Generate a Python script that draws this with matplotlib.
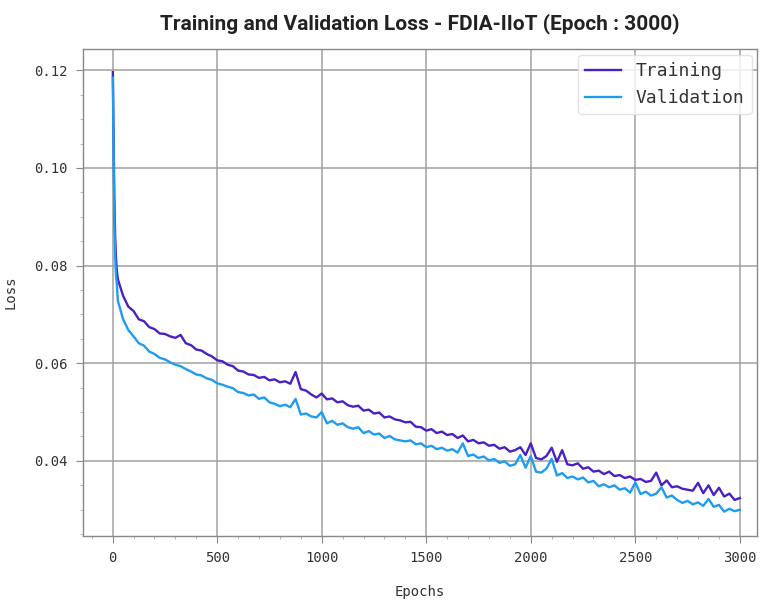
import numpy as np
import matplotlib
matplotlib.use("Agg")
import matplotlib.pyplot as plt
import matplotlib.ticker as ticker

# Daten
epochs_early = [1, 4, 8, 12, 16, 20]
train_early = [0.1196, 0.1080, 0.0940, 0.0860, 0.0815, 0.0790]
val_early = [0.1185, 0.1050, 0.0900, 0.0820, 0.0780, 0.0762]

epochs_main = list(range(25, 3001, 25))

train_main = [
    0.0772, 0.0738, 0.0716, 0.0707, 0.0690, 0.0686, 0.0674, 0.0670, 0.0661, 0.0660,
    0.0655, 0.0652, 0.0658, 0.0641, 0.0637, 0.0628, 0.0626, 0.0619, 0.0614, 0.0606,
    0.0604, 0.0597, 0.0594, 0.0585, 0.0583, 0.0577, 0.0576, 0.0570, 0.0572, 0.0565,
    0.0567, 0.0561, 0.0563, 0.0558, 0.0582, 0.0547, 0.0544, 0.0536, 0.0530, 0.0538,
    0.0526, 0.0528, 0.0520, 0.0522, 0.0514, 0.0511, 0.0513, 0.0503, 0.0505, 0.0497,
    0.0499, 0.0489, 0.0491, 0.0485, 0.0483, 0.0479, 0.0480, 0.0470, 0.0469, 0.0462,
    0.0465, 0.0457, 0.0460, 0.0453, 0.0455, 0.0447, 0.0452, 0.0440, 0.0443, 0.0436,
    0.0438, 0.0431, 0.0433, 0.0425, 0.0428, 0.0419, 0.0422, 0.0428, 0.0412, 0.0436,
    0.0406, 0.0403, 0.0410, 0.0427, 0.0398, 0.0422, 0.0393, 0.0391, 0.0395, 0.0384,
    0.0387, 0.0378, 0.0380, 0.0373, 0.0378, 0.0369, 0.0371, 0.0365, 0.0368, 0.0361,
    0.0363, 0.0357, 0.0359, 0.0376, 0.0350, 0.0360, 0.0346, 0.0348, 0.0343, 0.0341,
    0.0339, 0.0355, 0.0334, 0.0350, 0.0330, 0.0345, 0.0327, 0.0333, 0.0320, 0.0324,
]

val_main = [
    0.0728, 0.0690, 0.0668, 0.0655, 0.0641, 0.0636, 0.0624, 0.0619, 0.0611, 0.0608,
    0.0602, 0.0597, 0.0594, 0.0588, 0.0583, 0.0577, 0.0575, 0.0569, 0.0566, 0.0559,
    0.0556, 0.0552, 0.0549, 0.0541, 0.0539, 0.0534, 0.0536, 0.0527, 0.0530, 0.0520,
    0.0517, 0.0512, 0.0515, 0.0510, 0.0527, 0.0495, 0.0497, 0.0491, 0.0489, 0.0500,
    0.0477, 0.0482, 0.0474, 0.0477, 0.0469, 0.0466, 0.0469, 0.0457, 0.0461, 0.0454,
    0.0456, 0.0447, 0.0451, 0.0444, 0.0442, 0.0440, 0.0442, 0.0434, 0.0436, 0.0428,
    0.0431, 0.0424, 0.0427, 0.0421, 0.0424, 0.0417, 0.0436, 0.0410, 0.0413, 0.0406,
    0.0409, 0.0401, 0.0404, 0.0396, 0.0399, 0.0390, 0.0393, 0.0412, 0.0386, 0.0410,
    0.0378, 0.0376, 0.0384, 0.0404, 0.0370, 0.0375, 0.0365, 0.0368, 0.0362, 0.0366,
    0.0356, 0.0359, 0.0348, 0.0352, 0.0346, 0.0350, 0.0341, 0.0344, 0.0335, 0.0356,
    0.0332, 0.0337, 0.0329, 0.0333, 0.0346, 0.0325, 0.0329, 0.0320, 0.0314, 0.0318,
    0.0311, 0.0315, 0.0308, 0.0322, 0.0306, 0.0310, 0.0296, 0.0302, 0.0297, 0.0300,
]

epochs = epochs_early + epochs_main
train_loss = train_early + train_main
val_loss = val_early + val_main

# Schriften
mono = "DejaVu Sans Mono"
title_font = ["Liberation Sans Narrow", "Roboto", "DejaVu Sans"]

fig = plt.figure(figsize=(7.61, 6.01), dpi=100)
ax = fig.add_axes([0.109, 0.108, 0.886, 0.810])

ax.plot(epochs, train_loss, color="#4a1fc4", linewidth=1.7, label="Training")
ax.plot(epochs, val_loss, color="#1e9cf0", linewidth=1.7, label="Validation")

ax.set_xlim(-142, 3083)
ax.set_ylim(0.0246, 0.1243)

ax.xaxis.set_major_locator(ticker.MultipleLocator(500))
ax.xaxis.set_minor_locator(ticker.MultipleLocator(100))
ax.yaxis.set_major_locator(ticker.MultipleLocator(0.02))
ax.yaxis.set_minor_locator(ticker.MultipleLocator(0.005))
ax.yaxis.set_major_formatter(ticker.FormatStrFormatter("%.2f"))

ax.grid(which="major", color="#a0a0a0", linewidth=1.1)
ax.set_axisbelow(True)

for sp in ax.spines.values():
    sp.set_color("#888888")
    sp.set_linewidth(1.0)

ax.tick_params(which="major", length=5, color="#888888", labelsize=10,
               labelcolor="#333333", pad=6)
ax.tick_params(which="minor", length=2.5, color="#aaaaaa")
for lbl in ax.get_xticklabels() + ax.get_yticklabels():
    lbl.set_fontfamily(mono)

ax.set_xlabel("Epochs", fontfamily=mono, fontsize=10, color="#333333", labelpad=14)
ax.set_ylabel("Loss", fontfamily=mono, fontsize=10, color="#333333", labelpad=12)

ax.set_title("Training and Validation Loss - FDIA-IIoT (Epoch : 3000)",
             fontfamily=title_font, fontsize=15, fontweight="bold",
             color="#222222", pad=14)

leg = ax.legend(loc="upper right", prop={"family": mono, "size": 13},
                frameon=True, fancybox=True, borderaxespad=0.3,
                handlelength=2.0, labelspacing=0.5)
leg.get_frame().set_edgecolor("#dddddd")
for t in leg.get_texts():
    t.set_color("#333333")

fig.savefig("out.png", dpi=100)
